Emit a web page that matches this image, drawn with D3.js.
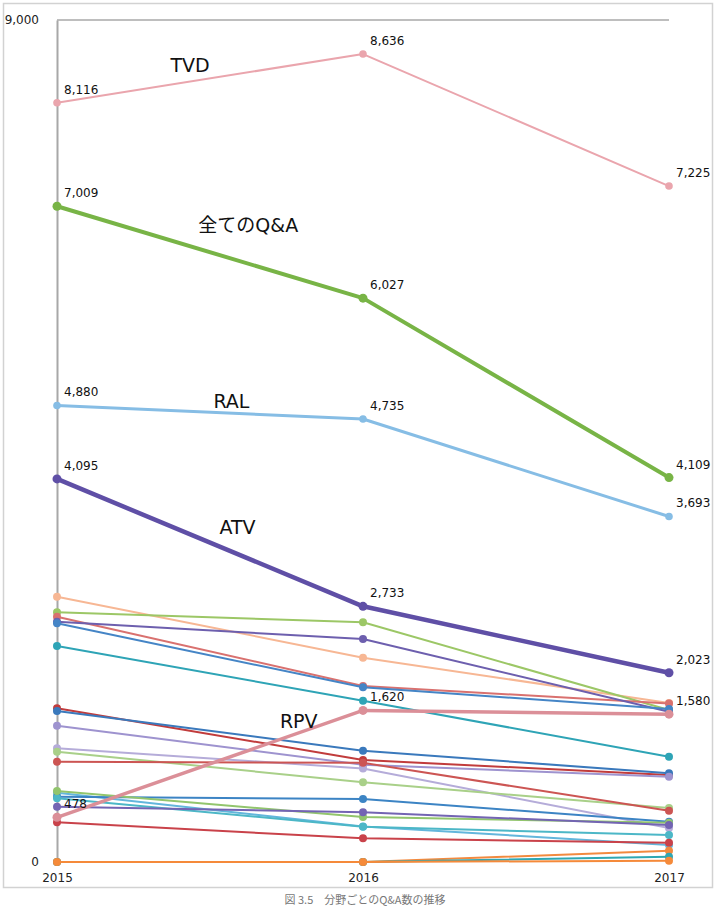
<!DOCTYPE html>
<html>
<head>
<meta charset="utf-8">
<script src="https://cdn.jsdelivr.net/npm/d3@7"></script>
<style>
  body { margin: 0; background: #fff; }
  svg { display: block; }
</style>
</head>
<body>
<div id="chart"></div>
<script>
// years on the x axis
const years = [2015, 2016, 2017];
const yTicks = [0, 9000];

// highlighted series
const mainNames = ["RPV", "ATV", "RAL", "全てのQ&A", "TVD"];
const rpv = [478, 1620, 1580];
const atv = [4095, 2733, 2023];
const ral = [4880, 4735, 3693];
const allQA = [7009, 6027, 4109];
const tvd = [8116, 8636, 7225];

// the other (unlabelled) series
const other01 = [2836, 2184, 1700];
const other02 = [2669, 2562, 1625];
const other03 = [2622, 1881, 1695];
const other04 = [2568, 2383, 1607];
const other05 = [2551, 1867, 1635];
const other06 = [2309, 1724, 1125];
const other07 = [1643, 1090, 930];
const other08 = [1614, 1190, 948];
const other09 = [1457, 1040, 912];
const other10 = [1215, 1000, 363];
const other11 = [1179, 852, 577];
const other12 = [1072, 1060, 547];
const other13 = [741, 380, 182];
const other14 = [698, 673, 431];
const other15 = [681, 377, 289];
const other16 = [760, 480, 420];
const other17 = [591, 531, 395];
const other18 = [424, 253, 206];
const other19 = [0, 0, 121];
const other20 = [0, 0, 57];
const other21 = [0, 0, 14];

const caption = "図 3.5　分野ごとのQ&A数の推移";

// ---- styling ----
const otherColors = ["#f7b794", "#9cc766", "#d9716f", "#6d5fae", "#4585c6", "#2ea4b6",
  "#c13c3c", "#3a79bc", "#9e93cf", "#b5acd9", "#a9d089", "#cc5553",
  "#63b6dc", "#3c84c4", "#4cb7c7", "#92c56d", "#7364b3", "#c9424a",
  "#f28a3f", "#2ea7b3", "#f58a3a"];
const otherSeries = [other01, other02, other03, other04, other05, other06, other07,
  other08, other09, other10, other11, other12, other13, other14, other15, other16,
  other17, other18, other19, other20, other21];

const mainSeries = [rpv, atv, ral, allQA, tvd];
const mainColors = ["#db8f98", "#5f4fa6", "#86bde5", "#78b446", "#eaa5ad"];
const mainWidths = [3.5, 4.5, 3, 4, 2];
// label anchors in data units [year, value]
const nameAnchors = [[2015.79, 1510], [2015.59, 3584], [2015.57, 4930], [2015.625, 6808], [2015.435, 8519]];

const W = 720, H = 909;
const margin = { left: 57, right: 51, top: 20, bottom: 47 };

const svg = d3.select("#chart").append("svg")
  .attr("width", W)
  .attr("height", H);

// outer frame
svg.append("rect")
  .attr("x", 3.5).attr("y", 3.5)
  .attr("width", 709).attr("height", 884)
  .attr("fill", "#fff")
  .attr("stroke", "#d2d2d2")
  .attr("stroke-width", 1.5);

const x = d3.scaleLinear()
  .domain([2015, 2017])
  .range([margin.left, W - margin.right]);

const y = d3.scaleLinear()
  .domain([0, 9000])
  .range([H - margin.bottom, margin.top]);

// top gridline
svg.append("line")
  .attr("x1", x(2015)).attr("x2", x(2017))
  .attr("y1", y(9000)).attr("y2", y(9000))
  .attr("stroke", "#a8a8a8")
  .attr("stroke-width", 1.5);

const yAxis = svg.append("g")
  .attr("transform", `translate(${x(2015)},0)`)
  .call(d3.axisLeft(y).tickValues(yTicks).tickSize(0).tickPadding(18).tickFormat(d3.format(",")));
yAxis.select(".domain").attr("stroke", "#a8a8a8").attr("stroke-width", 2);
yAxis.selectAll("text")
  .attr("font-family", "DejaVu Sans")
  .attr("font-size", 12)
  .attr("fill", "#222");

const xAxis = svg.append("g")
  .attr("transform", `translate(0,${y(0)})`)
  .call(d3.axisBottom(x).tickValues(years).tickSize(0).tickPadding(11).tickFormat(d3.format("d")));
xAxis.select(".domain").remove();
xAxis.selectAll("text")
  .attr("font-family", "DejaVu Sans")
  .attr("font-size", 12)
  .attr("fill", "#222");

const line = d3.line()
  .x((d, i) => x(years[i]))
  .y(d => y(d));

function drawSeries(values, color, width, r) {
  const g = svg.append("g");
  g.append("path")
    .datum(values)
    .attr("d", line)
    .attr("fill", "none")
    .attr("stroke", color)
    .attr("stroke-width", width)
    .attr("stroke-linejoin", "round");
  g.selectAll("circle")
    .data(values)
    .enter().append("circle")
    .attr("cx", (d, i) => x(years[i]))
    .attr("cy", d => y(d))
    .attr("r", r)
    .attr("fill", color);
  return g;
}

otherSeries.forEach((s, i) => drawSeries(s, otherColors[i], 2, 4));

mainSeries.forEach((s, i) => {
  const g = drawSeries(s, mainColors[i], mainWidths[i], mainWidths[i] > 3 ? 4.5 : 3.8);
  g.selectAll("text.val")
    .data(s)
    .enter().append("text")
    .attr("class", "val")
    .attr("x", (d, j) => x(years[j]) + 7)
    .attr("y", d => y(d) - 13)
    .attr("dominant-baseline", "central")
    .attr("font-family", "DejaVu Sans")
    .attr("font-size", 12)
    .attr("fill", "#111")
    .text(d => d3.format(",")(d));
});

// series names
svg.selectAll("text.name")
  .data(mainNames)
  .enter().append("text")
  .attr("class", "name")
  .attr("x", (d, i) => x(nameAnchors[i][0]))
  .attr("y", (d, i) => y(nameAnchors[i][1]))
  .attr("text-anchor", "middle")
  .attr("dominant-baseline", "central")
  .attr("font-family", "'DejaVu Sans', 'Noto Sans CJK JP'")
  .attr("font-size", 19)
  .attr("fill", "#111")
  .text(d => d);

svg.append("text")
  .attr("x", 365)
  .attr("y", 904)
  .attr("text-anchor", "middle")
  .attr("font-family", "'Noto Sans CJK JP'")
  .attr("font-size", 11)
  .attr("fill", "#777")
  .text(caption);
</script>
</body>
</html>
